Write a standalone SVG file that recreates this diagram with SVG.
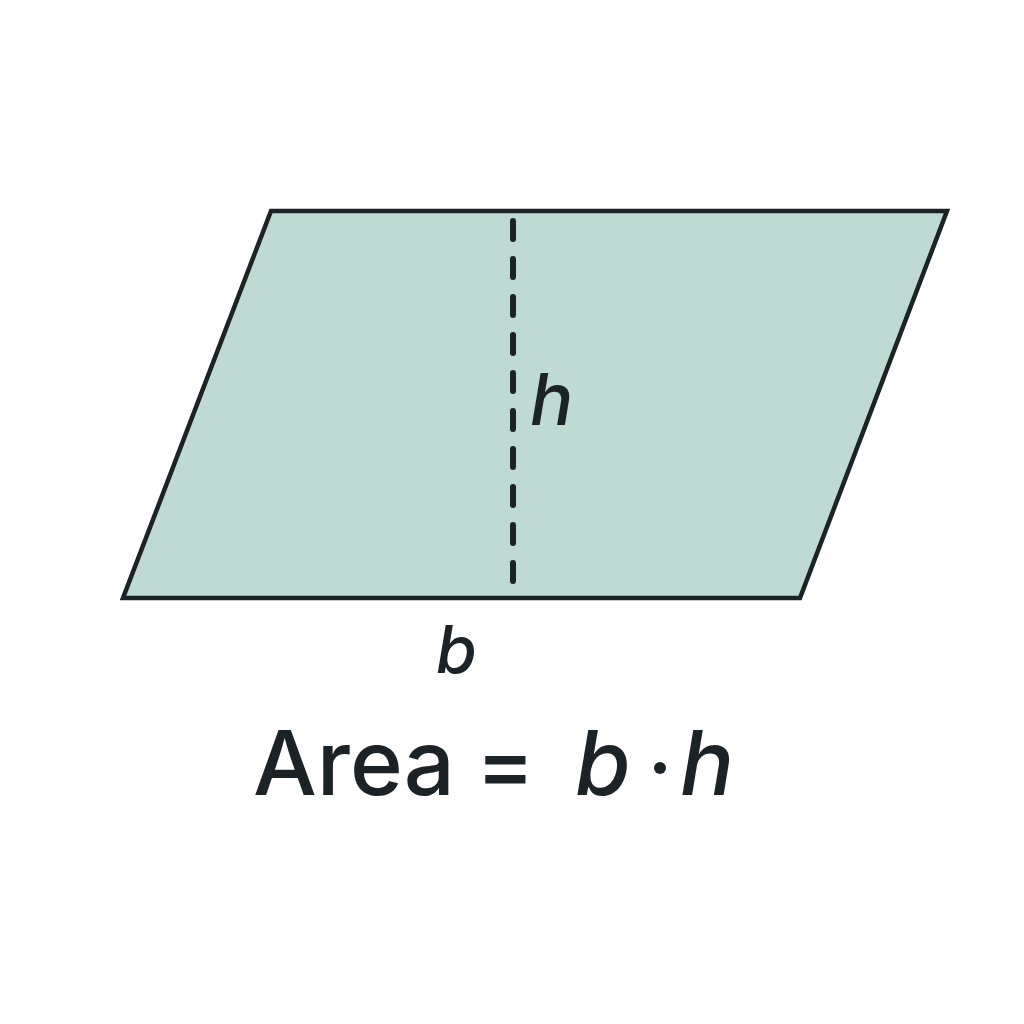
<svg xmlns="http://www.w3.org/2000/svg" width="1024" height="1024" viewBox="0 0 1024 1024">
<style>
.t{font-family:Inter,"Liberation Sans",Arial,sans-serif;fill:#1c2326;font-weight:500}
.i{font-style:italic}
</style>
<rect width="1024" height="1024" fill="#ffffff"/>
<g id="parallelogram">
<polygon points="271,211 947,211 800,598 123,598" fill="#bfdad2" stroke="#1c2326" stroke-width="4.5" stroke-linejoin="miter"/>
</g>
<g id="connectors">
<line x1="513" y1="213" x2="513" y2="596" stroke="#1c2326" stroke-width="6" stroke-dasharray="18 20" stroke-dashoffset="-8" stroke-linecap="round"/>
</g>
<g id="labels">
<text class="t i" x="530" y="425" font-size="72">h</text>
<text class="t i" x="436" y="673" font-size="66">b</text>
<text class="t" x="253" y="795" font-size="90">Area</text>
<text class="t" x="476" y="795" font-size="88">=</text>
<text class="t i" x="575" y="795" font-size="90">b</text>
<circle cx="660" cy="768" r="6" fill="#1c2326"/>
<text class="t i" x="680" y="795" font-size="90">h</text>
</g>
</svg>
